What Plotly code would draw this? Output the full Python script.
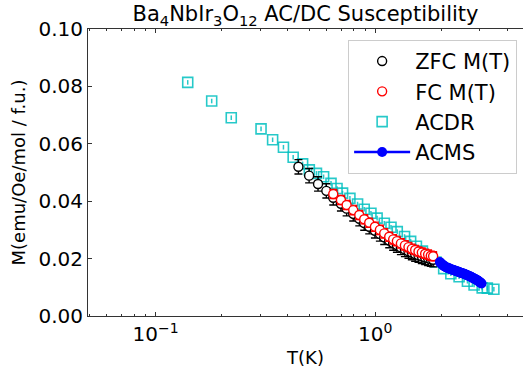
import plotly.graph_objects as go

# ---------------- data ----------------
zfc_T = [0.447, 0.500, 0.549, 0.599, 0.644, 0.698, 0.741, 0.794, 0.846, 0.891, 0.939, 0.997,
         1.050, 1.099, 1.158, 1.207, 1.255, 1.309, 1.365, 1.417, 1.468, 1.520, 1.574, 1.630,
         1.688, 1.741, 1.791, 1.835]
zfc_M = [0.0520, 0.0489, 0.0460, 0.0436, 0.0412, 0.0391, 0.0374, 0.0356, 0.0339, 0.0324,
         0.0311, 0.0297, 0.0286, 0.0274, 0.0263, 0.0254, 0.0247, 0.0239, 0.0232, 0.0226,
         0.0221, 0.0216, 0.0212, 0.0208, 0.0204, 0.0201, 0.0198, 0.0196]
zfc_err = [0.0025] * len(zfc_T)

fc_T = [0.644, 0.698, 0.741, 0.794, 0.846, 0.891, 0.939, 0.997, 1.050, 1.099, 1.158, 1.207,
        1.255, 1.309, 1.365, 1.417, 1.468, 1.520, 1.574, 1.630, 1.688, 1.741, 1.791, 1.835]
fc_M = [0.0425, 0.0404, 0.0387, 0.0369, 0.0352, 0.0337, 0.0325, 0.0311, 0.0300, 0.0288,
        0.0276, 0.0267, 0.0261, 0.0253, 0.0246, 0.0240, 0.0234, 0.0230, 0.0225, 0.0221,
        0.0217, 0.0214, 0.0210, 0.0208]
fc_err = [0.0016] * len(fc_T)

acdr_T = [0.140, 0.180, 0.221, 0.302, 0.341, 0.382, 0.423, 0.467, 0.501, 0.540, 0.582, 0.629,
          0.670, 0.710, 0.767, 0.831, 0.891, 0.956, 1.020, 1.100, 1.180, 1.260, 1.360, 1.450,
          1.540, 1.640, 1.760, 1.890, 2.050, 2.210, 2.410, 2.630, 2.820, 3.070, 3.240, 3.470]
acdr_M = [0.0814, 0.0749, 0.0691, 0.0652, 0.0614, 0.0588, 0.0553, 0.0530, 0.0509, 0.0497,
          0.0485, 0.0462, 0.0444, 0.0428, 0.0410, 0.0390, 0.0372, 0.0358, 0.0341, 0.0323,
          0.0309, 0.0294, 0.0277, 0.0260, 0.0243, 0.0226, 0.0205, 0.0188, 0.0165, 0.0147,
          0.0137, 0.0121, 0.0108, 0.0098, 0.0097, 0.0093]
acdr_err = [0.0008] * len(acdr_T)

acms_T = [1.97, 1.99, 2.01, 2.03, 2.05, 2.07, 2.09, 2.11, 2.13, 2.15, 2.17, 2.19, 2.21, 2.23,
          2.25, 2.27, 2.29, 2.31, 2.33, 2.35, 2.37, 2.39, 2.41, 2.43, 2.45, 2.47, 2.49, 2.51,
          2.54, 2.56, 2.59, 2.61, 2.63, 2.66, 2.68, 2.71, 2.73, 2.75, 2.77, 2.80, 2.82, 2.85,
          2.87, 2.90, 2.92, 2.95, 2.97, 2.99, 3.01, 3.03, 3.05]
acms_M = [0.0188, 0.0184, 0.0181, 0.0178, 0.0175, 0.0173, 0.0171, 0.0169, 0.0168, 0.0167,
          0.0166, 0.0164, 0.0163, 0.0162, 0.0161, 0.0160, 0.0159, 0.0158, 0.0157, 0.0156,
          0.0155, 0.0154, 0.0153, 0.0152, 0.0151, 0.0150, 0.0149, 0.0148, 0.0147, 0.0146,
          0.0144, 0.0143, 0.0142, 0.0140, 0.0139, 0.0138, 0.0136, 0.0135, 0.0133, 0.0132,
          0.0130, 0.0129, 0.0127, 0.0126, 0.0124, 0.0122, 0.0120, 0.0118, 0.0117, 0.0115,
          0.0113]

x_tickvals = [0.1, 1.0]
x_ticktext = ["10<sup>\u22121</sup>", "10<sup>0</sup>"]
x_minor = [0.05, 0.06, 0.07, 0.08, 0.09, 0.2, 0.3, 0.4, 0.5, 0.6, 0.7, 0.8, 0.9, 2, 3, 4]
y_tickvals = [0.00, 0.02, 0.04, 0.06, 0.08, 0.10]

title_text = "Ba<sub>4</sub>NbIr<sub>3</sub>O<sub>12</sub> AC/DC Susceptibility"

# ---------------- figure ----------------
FONT = "DejaVu Sans"
CYAN = "rgba(0,191,191,0.85)"

fig = go.Figure()

fig.add_trace(go.Scatter(
    x=acdr_T, y=acdr_M, mode="markers", name="ACDR", legendrank=3,
    marker=dict(symbol="square-open", size=10, color=CYAN, line=dict(width=1.6, color=CYAN)),
    error_y=dict(type="data", array=acdr_err, color=CYAN, thickness=1.5, width=0),
))
fig.add_trace(go.Scatter(
    x=zfc_T, y=zfc_M, mode="markers", name="ZFC M(T)", legendrank=1,
    marker=dict(symbol="circle", size=9, color="white", line=dict(width=1.4, color="black")),
    error_y=dict(type="data", array=zfc_err, color="black", thickness=1.4, width=4),
))
fig.add_trace(go.Scatter(
    x=fc_T, y=fc_M, mode="markers", name="FC M(T)", legendrank=2,
    marker=dict(symbol="circle", size=9, color="white", line=dict(width=1.4, color="red")),
    error_y=dict(type="data", array=fc_err, color="red", thickness=1.4, width=4),
))
fig.add_trace(go.Scatter(
    x=acms_T, y=acms_M, mode="lines+markers", name="ACMS", legendrank=4,
    line=dict(color="blue", width=2.5),
    marker=dict(symbol="circle", size=10, color="blue"),
))

axis_common = dict(
    showline=True, linecolor="#333333", linewidth=1, mirror="allticks",
    ticks="inside", ticklen=4, tickwidth=1, tickcolor="#333333",
    showgrid=False, zeroline=False,
    tickfont=dict(family=FONT, size=20, color="black"),
)

fig.update_xaxes(
    type="log", range=[-1.308, 0.673],
    tickmode="array", tickvals=x_tickvals, ticktext=x_ticktext,
    minor=dict(tickmode="array", tickvals=x_minor, ticks="inside", ticklen=2,
               tickcolor="#333333", showgrid=False),
    title=dict(text="T(K)", font=dict(family=FONT, size=18, color="black"), standoff=6),
    **axis_common,
)
fig.update_yaxes(
    range=[0, 0.10], tickmode="array", tickvals=y_tickvals, tickformat=".2f",
    title=dict(text="M(emu/Oe/mol / f.u.)", font=dict(family=FONT, size=18, color="black"), standoff=8),
    **{**axis_common, "mirror": False},
)

fig.update_layout(
    width=523, height=368,
    margin=dict(l=88, r=0, t=29, b=52),
    paper_bgcolor="white", plot_bgcolor="white",
    font=dict(family=FONT, color="black"),
    title=dict(text=title_text, font=dict(family=FONT, size=21, color="black"),
               x=0.5, xref="paper", xanchor="center",
               y=1 - 14 / 368, yref="container", yanchor="middle"),
    legend=dict(x=0.598, y=0.962, xanchor="left", yanchor="top",
                bgcolor="white", bordercolor="#cccccc", borderwidth=1,
                font=dict(family=FONT, size=21, color="black"),
                itemwidth=56, tracegroupgap=4),
    showlegend=True,
)

fig.write_html("out.html")
